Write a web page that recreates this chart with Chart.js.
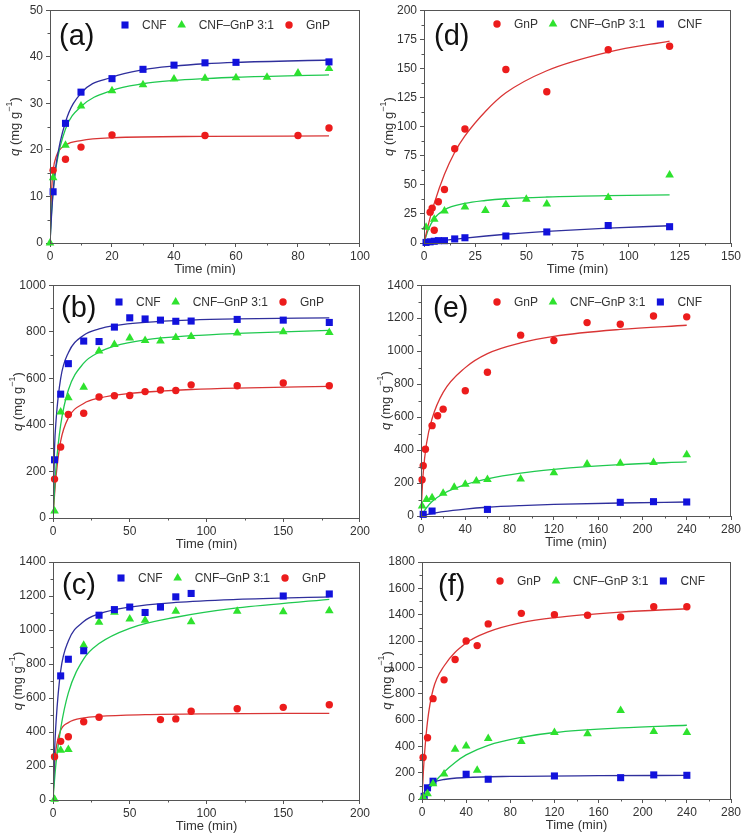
<!DOCTYPE html>
<html>
<head>
<meta charset="utf-8">
<script src="https://cdn.jsdelivr.net/npm/chart.js@4/dist/chart.umd.min.js"></script>
<style>
  body { margin: 0; background: #fff; }
  #wrap { position: relative; width: 745px; height: 839px; }
  .panel { position: absolute; }
</style>
</head>
<body>
<div id="wrap">
  <div class="panel" style="left:0;top:0;width:372px;height:275px"><canvas id="ca"></canvas></div>
  <div class="panel" style="left:372px;top:0;width:373px;height:275px"><canvas id="cd"></canvas></div>
  <div class="panel" style="left:0;top:275px;width:372px;height:275px"><canvas id="cb"></canvas></div>
  <div class="panel" style="left:372px;top:275px;width:373px;height:275px"><canvas id="ce"></canvas></div>
  <div class="panel" style="left:0;top:550px;width:372px;height:289px"><canvas id="cc"></canvas></div>
  <div class="panel" style="left:372px;top:550px;width:373px;height:289px"><canvas id="cf"></canvas></div>
</div>
<script>
// ---- data: [time (min), q (mg/g)] ----

// (a)
const aCnf = [[1,11],[5,25.7],[10,32.4],[20,35.3],[30,37.3],[40,38.2],[50,38.7],[60,38.8],[90,38.9]];
const aMix = [[0,0],[1,14],[5,21],[10,29.4],[20,32.7],[30,34],[40,35.2],[50,35.4],[60,35.5],[70,35.6],[80,36.5],[90,37.5]];
const aGnp = [[1,15.6],[5,18],[10,20.6],[20,23.2],[50,23.1],[80,23.1],[90,24.7]];
const aCnfFit = [[0,0],[0.5,6],[1,10.8],[2,17],[5,26],[10,32.2],[20,35.6],[30,37.2],[40,38],[50,38.5],[60,38.8],[90,39.3]];
const aMixFit = [[0,0],[0.5,6.5],[1,11],[2,16.5],[5,24.5],[10,29.3],[20,32.8],[30,34.2],[40,34.9],[50,35.3],[60,35.6],[90,36.1]];
const aGnpFit = [[0,0],[0.5,11],[1,15.5],[2,18.6],[5,21],[10,22],[20,22.6],[50,22.9],[90,23]];
const aXTicks = [0,20,40,60,80,100];
const aYTicks = [0,10,20,30,40,50];

// (d)
const dGnp = [[3,26.5],[4,30],[5,11],[7,35.5],[10,46],[15,81],[20,98],[40,149],[60,130],[90,166],[120,169]];
const dMix = [[1,13.5],[5,20.5],[10,27.5],[20,31],[30,28],[40,33],[50,37.5],[60,33.5],[90,39],[120,58.5]];
const dCnf = [[1,0.5],[3,1],[5,1.5],[7,2],[10,2],[15,3.5],[20,4.5],[40,6],[60,9.5],[90,15],[120,14]];
const dGnpFit = [[0,0],[2,15],[5,34],[10,59],[15,78],[20,92],[30,113],[40,129],[60,148],[90,164],[120,173.5]];
const dMixFit = [[0,0],[2,11],[5,21],[10,28.5],[20,34],[30,36.5],[40,38],[60,39.5],[90,40.7],[120,41.3]];
const dCnfFit = [[0,0],[10,2.2],[20,4.2],[40,7.5],[60,10],[90,12.8],[120,14.8]];
const dXTicks = [0,25,50,75,100,125,150];
const dYTicks = [0,25,50,75,100,125,150,175,200];

// (b)
const bCnf = [[1,250],[5,532],[10,663],[20,760],[30,758],[40,820],[50,860],[60,855],[70,850],[80,845],[90,846],[120,853],[150,850],[180,840]];
const bMix = [[1,30],[5,455],[10,517],[20,562],[30,717],[40,745],[50,773],[60,762],[70,760],[80,775],[90,780],[120,795],[150,800],[180,797]];
const bGnp = [[1,167],[5,305],[10,445],[20,450],[30,520],[40,525],[50,526],[60,543],[70,550],[80,548],[90,572],[120,568],[150,580],[180,568]];
const bCnfFit = [[0,0],[1,300],[2,420],[5,600],[10,710],[20,785],[30,812],[40,826],[60,840],[90,850],[120,855],[180,860]];
const bMixFit = [[0,0],[1,120],[2,220],[5,400],[10,550],[20,665],[30,712],[40,738],[60,765],[90,783],[120,793],[180,806]];
const bGnpFit = [[0,0],[1,100],[2,180],[5,330],[10,430],[20,492],[30,515],[50,535],[70,545],[90,552],[120,558],[180,565]];
const bXTicks = [0,50,100,150,200];
const bYTicks = [0,200,400,600,800,1000];

// (e)
const eGnp = [[1,220],[2,305],[4,405],[10,548],[15,608],[20,648],[40,760],[60,872],[90,1097],[120,1065],[150,1173],[180,1163],[210,1213],[240,1208]];
const eMix = [[1,60],[5,100],[10,110],[20,138],[30,175],[40,193],[50,213],[60,222],[90,225],[120,262],[150,315],[180,320],[210,325],[240,372]];
const eCnf = [[2,10],[10,30],[60,40],[180,83],[210,87],[240,85]];
const eGnpFit = [[0,0],[1,150],[2,260],[5,440],[10,590],[20,750],[40,900],[60,985],[90,1050],[120,1090],[180,1132],[240,1157]];
const eMixFit = [[0,0],[5,50],[10,88],[20,135],[40,190],[60,225],[90,260],[120,283],[150,300],[180,312],[240,328]];
const eCnfFit = [[0,0],[10,14],[20,26],[40,42],[60,53],[90,63],[120,70],[180,79],[240,85]];
const eXTicks = [0,40,80,120,160,200,240,280];
const eYTicks = [0,200,400,600,800,1000,1200,1400];

// (c)
const cCnf = [[5,730],[10,828],[20,878],[30,1087],[40,1120],[50,1135],[60,1103],[70,1135],[80,1195],[90,1215],[150,1200],[180,1212]];
const cMix = [[1,5],[5,292],[10,297],[20,910],[30,1045],[40,1105],[50,1065],[60,1058],[80,1110],[90,1048],[120,1110],[150,1108],[180,1113]];
const cGnp = [[1,255],[5,345],[10,372],[20,460],[30,487],[70,473],[80,477],[90,522],[120,537],[150,545],[180,560]];
const cCnfFit = [[0,0],[1,280],[2,460],[5,760],[10,935],[20,1050],[30,1095],[50,1135],[80,1162],[120,1180],[180,1195]];
const cMixFit = [[0,0],[1,120],[2,220],[5,420],[10,630],[20,830],[30,920],[50,1010],[80,1075],[120,1130],[180,1180]];
const cGnpFit = [[0,0],[1,200],[2,300],[5,410],[10,455],[20,483],[30,492],[60,502],[100,507],[180,510]];
const cXTicks = [0,50,100,150,200];
const cYTicks = [0,200,400,600,800,1000,1200,1400];

// (f)
const fGnp = [[1,315],[5,465],[10,762],[20,905],[30,1060],[40,1200],[50,1165],[60,1330],[90,1410],[120,1400],[150,1395],[180,1383],[210,1460],[240,1460]];
const fMix = [[1,15],[5,40],[10,115],[20,190],[30,378],[40,403],[50,218],[60,460],[90,437],[120,505],[150,495],[180,672],[210,513],[240,505]];
const fCnf = [[2,20],[5,85],[10,135],[40,188],[60,150],[120,175],[180,162],[210,183],[240,180]];
const fGnpFit = [[0,0],[1,170],[2,310],[5,590],[10,830],[20,1010],[40,1185],[60,1270],[90,1340],[120,1378],[180,1420],[240,1445]];
const fMixFit = [[0,0],[5,60],[10,115],[20,205],[30,278],[40,335],[60,408],[90,468],[120,505],[180,540],[240,560]];
const fCnfFit = [[0,0],[1,25],[2,50],[5,95],[10,125],[20,148],[40,163],[80,172],[160,177],[240,179]];
const fXTicks = [0,40,80,120,160,200,240,280];
const fYTicks = [0,200,400,600,800,1000,1200,1400,1600,1800];

// ---- look ----
const FONT = '"Liberation Sans", Arial, Helvetica, sans-serif';
const INK = '#333';
const AXIS = '#555';
const series = {
  cnf: { label: 'CNF', style: 'rect', r: 5, fill: '#1212dc', line: '#2f2f9c' },
  mix: { label: 'CNF\u2013GnP 3:1', style: 'triangle', r: 5, fill: '#2ee22e', line: '#1fc94f' },
  gnp: { label: 'GnP', style: 'circle', r: 3.7, fill: '#ec1c1c', line: '#d93535' }
};

function drawMarker(ctx, s, x, y) {
  ctx.fillStyle = s.fill;
  ctx.beginPath();
  if (s.style === 'rect') {
    const h = s.r * Math.SQRT1_2;
    ctx.rect(x - h, y - h, 2 * h, 2 * h);
  } else if (s.style === 'triangle') {
    ctx.moveTo(x, y - s.r);
    ctx.lineTo(x + s.r * 0.866, y + s.r * 0.5);
    ctx.lineTo(x - s.r * 0.866, y + s.r * 0.5);
    ctx.closePath();
  } else {
    ctx.arc(x, y, s.r, 0, Math.PI * 2);
  }
  ctx.fill();
}

// frame, minor ticks, legend, panel tag and axis titles
const decor = {
  id: 'decor',
  afterDraw(chart, args, o) {
    const { ctx, chartArea: a, scales: { x, y } } = chart;
    ctx.save();
    ctx.strokeStyle = AXIS;
    ctx.lineWidth = 1;
    ctx.strokeRect(Math.round(a.left) + 0.5, Math.round(a.top) + 0.5, Math.round(a.right - a.left) - 1, Math.round(a.bottom - a.top));

    // minor ticks halfway between the major ones
    ctx.beginPath();
    for (let i = 0; i < o.xTicks.length - 1; i++) {
      const px = Math.round(x.getPixelForValue((o.xTicks[i] + o.xTicks[i + 1]) / 2)) + 0.5;
      ctx.moveTo(px, a.bottom);
      ctx.lineTo(px, a.bottom + 2.5);
    }
    for (let i = 0; i < o.yTicks.length - 1; i++) {
      const py = Math.round(y.getPixelForValue((o.yTicks[i] + o.yTicks[i + 1]) / 2)) + 0.5;
      ctx.moveTo(a.left, py);
      ctx.lineTo(a.left - 2.5, py);
    }
    ctx.stroke();

    // legend
    ctx.font = '12px ' + FONT;
    ctx.textBaseline = 'middle';
    ctx.textAlign = 'left';
    let cx = o.legend.x;
    o.order.forEach(key => {
      const s = series[key];
      drawMarker(ctx, s, cx, o.legend.y);
      ctx.fillStyle = INK;
      ctx.fillText(s.label, cx + 17, o.legend.y + 1);
      cx += 17 + ctx.measureText(s.label).width + 15;
    });

    // panel tag
    ctx.font = '29px ' + FONT;
    ctx.fillStyle = '#111';
    ctx.fillText(o.tag, o.tagX, o.tagY);

    // x title
    ctx.font = '13px ' + FONT;
    ctx.fillStyle = INK;
    ctx.textAlign = 'center';
    ctx.fillText('Time (min)', (a.left + a.right) / 2, a.bottom + 26);

    // y title with italic q and superscript
    ctx.save();
    ctx.translate(a.left - 35, (a.top + a.bottom) / 2);
    ctx.rotate(-Math.PI / 2);
    const p1 = 'q', p2 = ' (mg g', p3 = '\u22121', p4 = ')';
    ctx.font = 'italic 13px ' + FONT;
    const w1 = ctx.measureText(p1).width;
    ctx.font = '13px ' + FONT;
    const w2 = ctx.measureText(p2).width, w4 = ctx.measureText(p4).width;
    ctx.font = '9px ' + FONT;
    const w3 = ctx.measureText(p3).width;
    let tx = -(w1 + w2 + w3 + w4) / 2;
    ctx.textAlign = 'left';
    ctx.font = 'italic 13px ' + FONT;
    ctx.fillText(p1, tx, 0); tx += w1;
    ctx.font = '13px ' + FONT;
    ctx.fillText(p2, tx, 0); tx += w2;
    ctx.font = '9px ' + FONT;
    ctx.fillText(p3, tx, -5); tx += w3;
    ctx.font = '13px ' + FONT;
    ctx.fillText(p4, tx, 0);
    ctx.restore();

    ctx.restore();
  }
};

function makePanel(id, p) {
  const canvas = document.getElementById(id);
  const W = canvas.parentElement.clientWidth, H = canvas.parentElement.clientHeight;
  const [L, T, R, B] = p.box;
  const datasets = [];
  p.order.forEach(key => {
    const s = series[key];
    datasets.push({
      data: p.pts[key].map(([x, y]) => ({ x, y })),
      pointStyle: s.style, pointRadius: s.r, pointHoverRadius: s.r,
      backgroundColor: s.fill, borderWidth: 0, showLine: false, clip: false
    });
  });
  p.order.forEach(key => {
    const s = series[key];
    datasets.push({
      data: p.fits[key].map(([x, y]) => ({ x, y })),
      showLine: true, pointRadius: 0, borderColor: s.line, borderWidth: 1.3,
      cubicInterpolationMode: 'monotone', fill: false
    });
  });
  const tickFont = { family: FONT, size: 12 };
  new Chart(canvas, {
    type: 'scatter',
    data: { datasets },
    options: {
      responsive: true,
      maintainAspectRatio: false,
      animation: false,
      layout: { padding: { left: 0, top: T, right: W - R, bottom: 0 } },
      plugins: {
        legend: { display: false },
        tooltip: { enabled: false },
        decor: { xTicks: p.xTicks, yTicks: p.yTicks, order: p.order, legend: p.legend, tag: p.tag, tagX: p.tagX, tagY: p.tagY }
      },
      scales: {
        x: {
          type: 'linear',
          min: p.xTicks[0], max: p.xTicks[p.xTicks.length - 1],
          afterBuildTicks: s => { s.ticks = p.xTicks.map(v => ({ value: v })); },
          afterFit: s => { s.height = H - B; },
          grid: { drawOnChartArea: false, tickLength: 4, color: AXIS },
          border: { color: AXIS },
          ticks: { font: tickFont, color: INK, padding: 2, maxRotation: 0, autoSkip: false, callback: v => String(v) }
        },
        y: {
          type: 'linear',
          min: p.yTicks[0], max: p.yTicks[p.yTicks.length - 1],
          afterBuildTicks: s => { s.ticks = p.yTicks.map(v => ({ value: v })); },
          afterFit: s => { s.width = L; },
          grid: { drawOnChartArea: false, tickLength: 4, color: AXIS },
          border: { color: AXIS },
          ticks: { font: tickFont, color: INK, padding: 3, autoSkip: false, callback: v => String(v) }
        }
      }
    },
    plugins: [decor]
  });
}

makePanel('ca', {
  box: [50, 10, 363, 243], xTicks: aXTicks, yTicks: aYTicks, order: ['cnf', 'mix', 'gnp'],
  pts: { cnf: aCnf, mix: aMix, gnp: aGnp }, fits: { cnf: aCnfFit, mix: aMixFit, gnp: aGnpFit },
  legend: { x: 125, y: 25 }, tag: '(a)', tagX: 59, tagY: 37
});
makePanel('cd', {
  box: [52, 10, 359, 243], xTicks: dXTicks, yTicks: dYTicks, order: ['gnp', 'mix', 'cnf'],
  pts: { cnf: dCnf, mix: dMix, gnp: dGnp }, fits: { cnf: dCnfFit, mix: dMixFit, gnp: dGnpFit },
  legend: { x: 125, y: 24 }, tag: '(d)', tagX: 62, tagY: 37
});
makePanel('cb', {
  box: [53, 10, 363, 243], xTicks: bXTicks, yTicks: bYTicks, order: ['cnf', 'mix', 'gnp'],
  pts: { cnf: bCnf, mix: bMix, gnp: bGnp }, fits: { cnf: bCnfFit, mix: bMixFit, gnp: bGnpFit },
  legend: { x: 119, y: 27 }, tag: '(b)', tagX: 61, tagY: 34
});
makePanel('ce', {
  box: [49, 10, 359, 241], xTicks: eXTicks, yTicks: eYTicks, order: ['gnp', 'mix', 'cnf'],
  pts: { cnf: eCnf, mix: eMix, gnp: eGnp }, fits: { cnf: eCnfFit, mix: eMixFit, gnp: eGnpFit },
  legend: { x: 125, y: 27 }, tag: '(e)', tagX: 61, tagY: 34
});
makePanel('cc', {
  box: [53, 12, 363, 250], xTicks: cXTicks, yTicks: cYTicks, order: ['cnf', 'mix', 'gnp'],
  pts: { cnf: cCnf, mix: cMix, gnp: cGnp }, fits: { cnf: cCnfFit, mix: cMixFit, gnp: cGnpFit },
  legend: { x: 121, y: 28 }, tag: '(c)', tagX: 62, tagY: 36
});
makePanel('cf', {
  box: [50, 12, 359, 249], xTicks: fXTicks, yTicks: fYTicks, order: ['gnp', 'mix', 'cnf'],
  pts: { cnf: fCnf, mix: fMix, gnp: fGnp }, fits: { cnf: fCnfFit, mix: fMixFit, gnp: fGnpFit },
  legend: { x: 128, y: 31 }, tag: '(f)', tagX: 66, tagY: 37
});
</script>
</body>
</html>
